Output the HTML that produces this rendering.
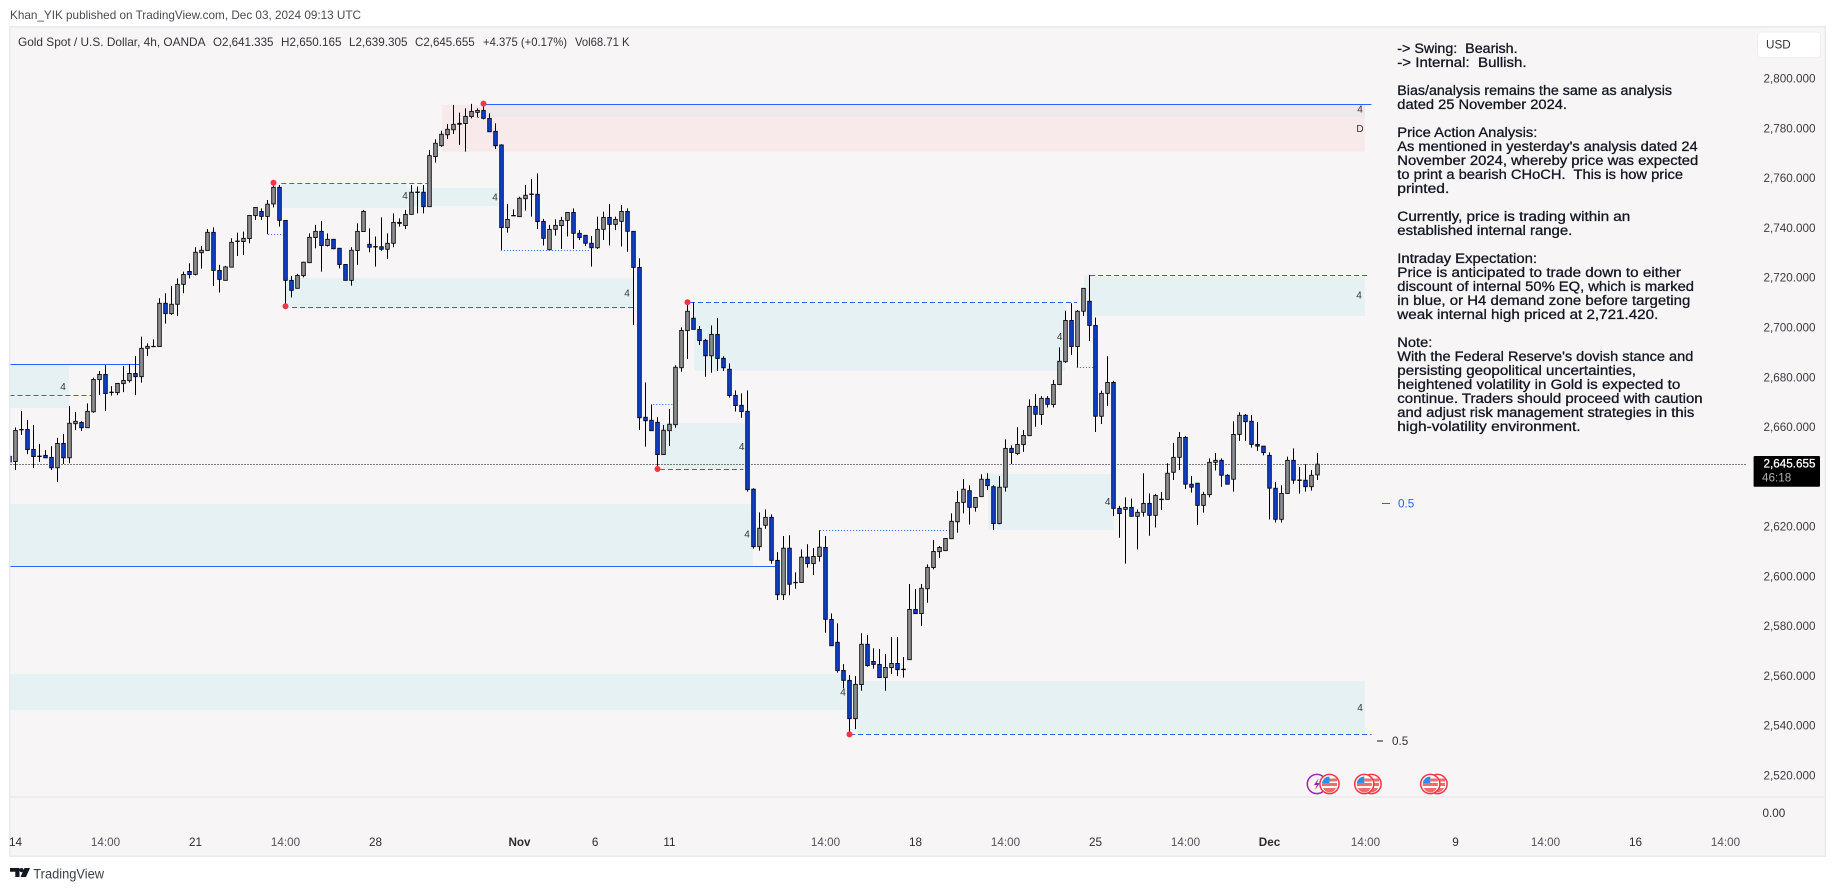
<!DOCTYPE html>
<html lang="en">
<head>
<meta charset="utf-8">
<title>Gold Spot / U.S. Dollar, 4h chart</title>
<style>
html,body{margin:0;padding:0;background:#fff;width:1835px;height:891px;overflow:hidden}
svg{display:block}
text{font-family:"Liberation Sans",sans-serif;white-space:pre}
.note{font-size:13.5px;fill:#131722;stroke:#131722;stroke-width:.3px}
.hdr{font-size:12px;fill:#333338}
.small4{font-size:10px;fill:#333;text-anchor:middle}
</style>
</head>
<body>
<svg id="chart" xmlns="http://www.w3.org/2000/svg" width="1835" height="891" viewBox="0 0 1835 891">
  <defs><clipPath id="pane-clip"><rect x="10.5" y="27.5" width="1814" height="769"></rect></clipPath></defs>
  <rect x="9.75" y="26.75" width="1815.5" height="829.5" fill="#f7f5f6" stroke="#e9e9ee" stroke-width="1.5"></rect>
  <line x1="10.5" x2="1825" y1="797" y2="797" stroke="#e4e4ea" stroke-width="1"></line>

  <g id="zones" clip-path="url(#pane-clip)"></g>
  <g id="levels" clip-path="url(#pane-clip)"></g>
  <line id="last-line" stroke="#000" stroke-width="1" stroke-dasharray="1 2"></line>
  <g id="candles" clip-path="url(#pane-clip)"></g>
  <g id="pivots"></g>
  <g id="events"></g>

  <g>
    <text class="small4" x="63" y="390">4</text>
    <text class="small4" x="405" y="199">4</text>
    <text class="small4" x="495" y="200.500">4</text>
    <text class="small4" x="627" y="296.500">4</text>
    <text class="small4" x="741.700" y="450">4</text>
    <text class="small4" x="747" y="537.500">4</text>
    <text class="small4" x="843" y="695.500">4</text>
    <text class="small4" x="1059.700" y="340">4</text>
    <text class="small4" x="1107.700" y="505">4</text>
    <text class="small4" x="1359" y="298.500">4</text>
    <text class="small4" x="1360" y="711">4</text>
    <text class="small4" x="1360" y="112.500">4</text>
    <text class="small4" x="1360" y="132">D</text>
  </g>

  <g>
    <line x1="1382" x2="1390" y1="503.500" y2="503.500" stroke="#2962ff" stroke-width="1"></line>
    <text x="1398" y="507.500" style="font-size:11.7px;fill:#2962ff">0.5</text>
  </g>
  <g>
    <line x1="1377" x2="1383" y1="741" y2="741" stroke="#131722" stroke-width="1"></line>
    <text x="1392" y="745" style="font-size:11.7px;fill:#333">0.5</text>
  </g>

  <g>
    <text class="note" x="1397.300" y="53" textLength="120.300" lengthAdjust="spacingAndGlyphs">-&gt; Swing:  Bearish.</text>
    <text class="note" x="1397.300" y="67" textLength="129.300" lengthAdjust="spacingAndGlyphs">-&gt; Internal:  Bullish.</text>
    <text class="note" x="1397.300" y="95" textLength="274.700" lengthAdjust="spacingAndGlyphs">Bias/analysis remains the same as analysis</text>
    <text class="note" x="1397.300" y="109" textLength="169.700" lengthAdjust="spacingAndGlyphs">dated 25 November 2024.</text>
    <text class="note" x="1397.300" y="137" textLength="140" lengthAdjust="spacingAndGlyphs">Price Action Analysis:</text>
    <text class="note" x="1397.300" y="151" textLength="300.300" lengthAdjust="spacingAndGlyphs">As mentioned in yesterday's analysis dated 24</text>
    <text class="note" x="1397.300" y="165" textLength="301" lengthAdjust="spacingAndGlyphs">November 2024, whereby price was expected</text>
    <text class="note" x="1397.300" y="179" textLength="285.700" lengthAdjust="spacingAndGlyphs">to print a bearish CHoCH.  This is how price</text>
    <text class="note" x="1397.300" y="193" textLength="52" lengthAdjust="spacingAndGlyphs">printed.</text>
    <text class="note" x="1397.300" y="221" textLength="233" lengthAdjust="spacingAndGlyphs">Currently, price is trading within an</text>
    <text class="note" x="1397.300" y="235" textLength="175" lengthAdjust="spacingAndGlyphs">established internal range.</text>
    <text class="note" x="1397.300" y="263" textLength="139.700" lengthAdjust="spacingAndGlyphs">Intraday Expectation:</text>
    <text class="note" x="1397.300" y="277" textLength="283.700" lengthAdjust="spacingAndGlyphs">Price is anticipated to trade down to either</text>
    <text class="note" x="1397.300" y="291" textLength="296.700" lengthAdjust="spacingAndGlyphs">discount of internal 50% EQ, which is marked</text>
    <text class="note" x="1397.300" y="305" textLength="293" lengthAdjust="spacingAndGlyphs">in blue, or H4 demand zone before targeting</text>
    <text class="note" x="1397.300" y="319" textLength="261" lengthAdjust="spacingAndGlyphs">weak internal high priced at 2,721.420.</text>
    <text class="note" x="1397.300" y="347" textLength="35" lengthAdjust="spacingAndGlyphs">Note:</text>
    <text class="note" x="1397.300" y="361" textLength="296" lengthAdjust="spacingAndGlyphs">With the Federal Reserve's dovish stance and</text>
    <text class="note" x="1397.300" y="375" textLength="238.700" lengthAdjust="spacingAndGlyphs">persisting geopolitical uncertainties,</text>
    <text class="note" x="1397.300" y="389" textLength="283" lengthAdjust="spacingAndGlyphs">heightened volatility in Gold is expected to</text>
    <text class="note" x="1397.300" y="403" textLength="305.300" lengthAdjust="spacingAndGlyphs">continue. Traders should proceed with caution</text>
    <text class="note" x="1397.300" y="417" textLength="297" lengthAdjust="spacingAndGlyphs">and adjust risk management strategies in this</text>
    <text class="note" x="1397.300" y="431" textLength="183.300" lengthAdjust="spacingAndGlyphs">high-volatility environment.</text>
  </g>

  <text class="hdr" x="10" y="19" textLength="351" lengthAdjust="spacingAndGlyphs" style="fill:#4a4a50">Khan_YIK published on TradingView.com, Dec 03, 2024 09:13 UTC</text>
  <g>
    <text class="hdr" x="18" y="46" textLength="187.500" lengthAdjust="spacingAndGlyphs">Gold Spot / U.S. Dollar, 4h, OANDA</text>
    <text class="hdr" x="213" y="46" textLength="60.500" lengthAdjust="spacingAndGlyphs">O2,641.335</text>
    <text class="hdr" x="281" y="46" textLength="60.500" lengthAdjust="spacingAndGlyphs">H2,650.165</text>
    <text class="hdr" x="349" y="46" textLength="58.500" lengthAdjust="spacingAndGlyphs">L2,639.305</text>
    <text class="hdr" x="415" y="46" textLength="59.700" lengthAdjust="spacingAndGlyphs">C2,645.655</text>
    <text class="hdr" x="483" y="46" textLength="84" lengthAdjust="spacingAndGlyphs">+4.375 (+0.17%)</text>
    <text class="hdr" x="575" y="46" textLength="54.500" lengthAdjust="spacingAndGlyphs">Vol68.71 K</text>
  </g>

  <g>
    <rect x="1757.500" y="32" width="63" height="25.500" rx="4" fill="#fff" stroke="#eeeef3" stroke-width="1"></rect>
    <text x="1766" y="48.500" style="font-size:11.7px;fill:#333">USD</text>
  </g>

  <g id="price-axis"></g>
  <text x="1762.500" y="817" style="font-size:11.7px;fill:#333">0.00</text>
  <g id="time-axis"></g>

  <g>
    <rect x="1753.600" y="456" width="66.400" height="30.700" rx="1" fill="#000"></rect>
    <text x="1815.500" y="467.700" text-anchor="end" style="font-size:11.7px;fill:#fff;stroke:#fff;stroke-width:.25px">2,645.655</text>
    <text x="1762" y="481.700" style="font-size:11.7px;fill:#b0b0b0">46:18</text>
  </g>

  <g>
    <path d="M10 868h9.500v9h-4.200v-5.200H10zM21.500 868a2.100 2.100 0 1 1 0 4.200a2.100 2.100 0 1 1 0-4.200zM24.500 868H30l-4 9h-5.500z" fill="#131722"></path>
    <text x="33.300" y="878.700" textLength="70.700" lengthAdjust="spacingAndGlyphs" style="font-size:13.500px;fill:#3a3f4a">TradingView</text>
  </g>
</svg>

<script>
// --- Candle values (4h bars, USD per ounce) ---
const opens = [2648.8,
2646.7,2659.5,2659.6,2651.6,2648.9,2649.2,2648.4,2644.2,2654.0,2648.2,
2661.9,2662.4,2660.3,2666.7,2679.6,2681.7,2674.4,2674.4,2678.0,2679.2,
2682.1,2680.8,2692.2,2692.9,2692.9,2710.3,2706.1,2709.9,2717.9,2723.1,
2721.9,2730.6,2731.5,2738.8,2723.5,2719.5,2724.8,2735.1,2735.1,2736.3,
2745.5,2747.2,2745.2,2750.2,2756.9,2743.6,2719.5,2716.3,2721.4,2726.6,
2736.7,2739.2,2733.5,2736.0,2732.4,2725.9,2719.5,2731.5,2739.1,2734.0,
2732.9,2733.0,2732.0,2734.4,2742.8,2741.5,2746.0,2754.8,2754.9,2749.1,
2769.2,2773.6,2778.0,2780.0,2782.6,2782.5,2785.3,2787.0,2787.8,2784.6,
2779.4,2773.9,2740.7,2745.4,2745.1,2752.3,2754.0,2754.1,2743.2,2731.8,
2740.0,2741.5,2743.6,2746.8,2738.4,2737.6,2734.4,2732.6,2740.0,2744.8,
2742.0,2743.2,2747.2,2739.2,2724.7,2664.5,2663.3,2662.5,2649.5,2659.1,
2661.5,2684.4,2699.3,2704.3,2699.8,2695.4,2689.2,2697.8,2688.2,2683.8,
2673.3,2669.3,2666.9,2635.6,2612.5,2621.1,2624.3,2607.0,2593.2,2611.9,
2598.0,2598.1,2608.3,2605.7,2608.6,2612.2,2583.3,2574.1,2562.8,2558.8,
2543.4,2557.1,2573.3,2566.4,2565.2,2559.9,2563.9,2565.6,2563.1,2567.1,
2587.3,2585.6,2595.6,2604.1,2610.5,2610.9,2615.7,2622.5,2630.3,2635.0,
2628.3,2632.6,2639.6,2636.6,2621.8,2636.4,2652.0,2649.9,2653.5,2657.1,
2668.9,2665.6,2672.1,2669.6,2677.6,2686.8,2703.4,2692.9,2707.1,2711.1,
2701.4,2664.9,2674.1,2678.5,2627.9,2627.5,2628.3,2624.7,2626.3,2629.9,
2625.1,2631.4,2631.5,2642.4,2648.4,2656.4,2637.6,2638.0,2629.1,2633.4,
2646.4,2647.2,2641.2,2639.6,2657.6,2665.3,2662.9,2653.6,2652.9,2649.2,
2636.0,2623.5,2633.9,2647.2,2639.1,2639.2,2636.6,2641.335];

const highs = [2649.0,
2660.4,2667.0,2663.4,2661.4,2653.8,2651.3,2652.9,2656.2,2657.8,2669.0,
2666.6,2662.9,2670.1,2680.4,2683.1,2685.5,2677.0,2678.1,2685.1,2685.9,
2689.1,2696.9,2694.2,2695.8,2712.3,2714.3,2717.3,2720.3,2723.0,2726.4,
2732.8,2733.3,2740.1,2740.8,2725.7,2725.3,2736.4,2738.7,2739.1,2745.6,
2748.8,2748.4,2751.8,2757.8,2757.8,2743.6,2721.3,2722.1,2727.0,2738.4,
2741.8,2743.4,2738.4,2736.0,2732.4,2725.9,2732.8,2742.4,2747.8,2740.4,
2737.1,2744.8,2738.4,2746.4,2744.4,2747.8,2757.8,2757.2,2757.8,2771.9,
2776.2,2779.6,2782.3,2790.0,2786.9,2788.6,2790.4,2788.6,2790.4,2786.6,
2782.6,2774.2,2750.2,2748.0,2753.1,2757.8,2760.2,2762.5,2744.2,2741.8,
2744.0,2745.0,2746.8,2748.4,2739.7,2737.6,2737.3,2745.1,2747.1,2750.2,
2745.1,2749.8,2748.4,2739.2,2728.4,2678.5,2669.7,2664.5,2661.4,2667.8,
2685.4,2700.6,2710.7,2710.7,2701.2,2696.0,2701.4,2704.4,2689.0,2686.2,
2675.3,2674.1,2675.3,2636.0,2626.3,2627.5,2625.5,2610.3,2616.8,2617.1,
2602.2,2611.4,2613.5,2611.9,2619.1,2616.8,2585.7,2581.7,2565.3,2560.9,
2560.5,2577.7,2577.0,2571.7,2571.4,2569.4,2576.2,2576.2,2568.2,2597.5,
2595.5,2597.5,2605.4,2615.2,2612.8,2615.8,2625.9,2634.9,2639.7,2637.2,
2632.3,2641.6,2642.0,2637.2,2640.9,2655.6,2653.2,2660.5,2659.4,2671.7,
2673.9,2673.0,2673.0,2679.5,2692.6,2707.3,2710.3,2707.6,2716.3,2721.7,
2704.6,2675.2,2689.0,2679.1,2628.9,2632.3,2631.8,2627.5,2642.0,2633.9,
2633.7,2634.5,2646.0,2654.2,2658.6,2657.0,2640.9,2638.0,2634.5,2648.0,
2650.1,2648.0,2641.6,2662.9,2666.5,2665.8,2665.4,2662.6,2652.9,2650.4,
2638.5,2637.2,2648.7,2652.0,2644.5,2645.6,2643.3,2650.165];

const lows = [2646.0,
2643.3,2657.4,2649.7,2644.1,2646.5,2648.2,2643.3,2638.5,2645.7,2646.0,
2659.4,2659.0,2660.3,2666.3,2673.4,2667.0,2673.2,2673.4,2674.6,2678.4,
2673.4,2678.4,2689.1,2692.9,2692.9,2702.1,2705.6,2705.2,2714.3,2720.3,
2721.5,2724.2,2731.5,2717.3,2714.6,2719.5,2724.8,2729.3,2729.7,2734.4,
2743.8,2743.8,2738.1,2748.8,2741.1,2709.6,2712.6,2716.3,2720.7,2726.6,
2732.4,2723.0,2733.1,2732.0,2724.3,2719.5,2717.4,2725.7,2739.1,2730.8,
2725.0,2731.4,2728.1,2732.8,2741.1,2740.1,2746.0,2746.4,2746.4,2749.1,
2766.8,2773.2,2776.3,2778.3,2773.9,2771.2,2784.6,2785.0,2784.2,2779.2,
2772.3,2731.7,2738.7,2745.4,2745.1,2747.5,2745.1,2740.1,2733.5,2731.7,
2737.5,2732.1,2737.1,2732.1,2735.7,2733.3,2725.0,2732.1,2735.7,2733.5,
2739.7,2733.1,2731.0,2701.6,2659.4,2652.7,2659.1,2643.7,2649.5,2653.0,
2660.3,2682.8,2687.9,2699.8,2693.5,2680.8,2682.4,2683.1,2683.1,2672.4,
2666.8,2664.3,2634.6,2611.7,2610.9,2619.7,2605.7,2591.1,2591.1,2593.0,
2595.6,2598.1,2604.1,2601.1,2606.5,2577.9,2572.7,2561.9,2555.6,2537.1,
2539.2,2554.6,2564.3,2563.5,2559.9,2554.6,2561.3,2560.5,2559.9,2567.1,
2585.6,2580.6,2590.0,2603.4,2607.9,2610.9,2615.7,2618.1,2625.9,2621.4,
2626.6,2632.6,2635.3,2619.2,2621.5,2634.6,2645.7,2649.3,2650.6,2657.1,
2660.7,2661.4,2668.4,2668.4,2677.6,2686.4,2689.5,2684.6,2705.2,2695.1,
2658.6,2661.8,2669.0,2624.8,2616.1,2605.7,2624.6,2611.4,2624.6,2616.9,
2620.2,2627.3,2631.5,2639.3,2643.3,2635.7,2634.2,2621.2,2626.2,2632.3,
2643.1,2636.6,2637.6,2634.6,2655.0,2655.0,2652.3,2651.0,2649.2,2623.4,
2622.2,2622.2,2633.9,2637.8,2633.8,2634.6,2635.0,2639.305];

const closes = [2646.5,
2659.2,2659.6,2651.5,2648.7,2648.7,2648.2,2644.2,2654.0,2648.2,2662.1,
2662.9,2660.3,2666.9,2679.7,2681.7,2674.0,2674.6,2678.1,2679.3,2682.1,
2680.8,2692.2,2693.0,2693.0,2710.3,2706.1,2709.9,2717.9,2721.9,2721.8,
2730.8,2731.6,2738.8,2723.5,2719.9,2724.9,2734.8,2735.3,2736.4,2745.6,
2748.8,2745.2,2750.1,2756.9,2743.6,2719.5,2715.5,2721.5,2726.8,2736.8,
2739.2,2733.5,2736.0,2732.2,2725.9,2719.5,2731.6,2739.2,2747.2,2732.8,
2733.1,2732.0,2734.4,2742.8,2742.4,2746.0,2754.9,2755.0,2749.1,2769.6,
2774.6,2778.2,2780.2,2782.2,2782.2,2785.4,2787.4,2787.8,2784.6,2779.2,
2773.6,2740.7,2744.0,2745.6,2752.5,2753.7,2754.2,2743.1,2736.4,2740.0,
2741.6,2743.6,2746.8,2738.4,2736.7,2734.4,2732.6,2740.0,2744.8,2742.0,
2744.0,2747.2,2739.2,2724.7,2664.3,2663.1,2659.1,2649.5,2659.3,2661.7,
2684.6,2699.4,2707.1,2699.8,2695.3,2689.2,2697.8,2688.1,2684.4,2673.2,
2669.2,2666.8,2635.4,2612.5,2619.9,2624.3,2607.0,2593.2,2611.9,2597.4,
2598.2,2608.3,2605.7,2608.6,2612.3,2583.3,2572.7,2562.7,2558.8,2543.4,
2557.2,2573.3,2564.7,2565.2,2559.9,2564.0,2565.6,2563.1,2563.3,2587.3,
2585.6,2595.8,2604.2,2610.6,2612.2,2615.8,2622.7,2630.3,2635.6,2628.3,
2632.3,2639.6,2637.0,2621.8,2636.4,2652.0,2650.3,2653.6,2657.2,2668.9,
2665.7,2672.1,2669.7,2677.7,2687.0,2703.4,2692.9,2707.1,2716.3,2701.4,
2664.9,2674.1,2678.5,2627.9,2625.8,2628.3,2624.7,2626.3,2629.9,2625.1,
2633.1,2631.6,2642.0,2648.4,2656.4,2637.6,2636.4,2629.1,2633.5,2646.4,
2647.2,2641.2,2637.6,2657.6,2665.3,2662.7,2653.6,2652.9,2650.3,2636.0,
2623.5,2633.9,2647.2,2639.2,2639.3,2636.6,2641.2,2645.655];

const lastPrice = 2645.655;

// --- Axis data ---
const priceTicks = [2800,2780,2760,2740,2720,2700,2680,2660,2620,2600,2580,2560,2540,2520];
const timeLabels = ["14","14:00","21","14:00","28","Nov","6","11","14:00","18","14:00","25","14:00","Dec","14:00","9","14:00","16","14:00"];
const timeBars = [1,16,31,46,61,85,97.6,110,136,151,166,181,196,210,226,241,256,271,286];

// --- Zones: bar index span and price span ---
const zoneStart = [-0.1,-0.1,-0.1,141.3,45.3,66.3,45.9,72.1,79.3,114.1,108.6,163.1,179.1];
const zoneEnd   = [9.93,123.9,139.6,225.9,66.3,81.4,104.1,225.9,225.9,176,122.6,184,225.9];
const zoneHigh  = [2685.8,2629.6,2561.3,2558.5,2758.2,2756.6,2720.4,2790,2790.2,2710.3,2662.2,2641.7,2721.4];
const zoneLow   = [2668.2,2604.7,2546.9,2537.2,2748.6,2749.4,2708.1,2771.2,2785.1,2683.2,2643.7,2619.2,2705.2];
const zoneKinds = ["d","d","d","d","d","d","d","s","o","d","d","d","d"];

// --- Structure levels ---
const solidPrices = [2685.8,2604.6,2790.2];
const solidFrom = [0,0,79.1];
const solidTo = [21.6,127.6,227];
const dashPrices = [2673.3,2758.5,2708.5,2710.7,2643.6,2721.5,2537];
const dashFrom = [0,45.3,47.1,113.4,108.4,180.1,140.1];
const dashTo = [13.6,69.6,104.1,177.9,122.3,226.6,227];
const dotPrices = [2738,2731.6,2785.1,2669.7,2619,2684.6];
const dotFrom = [43.1,81.9,78.1,107.3,135.1,177.9];
const dotTo = [45.6,96.9,79.3,110.6,156.8,180.6];

// --- Swing pivots ---
const pivotBars = [44,46,79,113,108,140];
const pivotPrices = [2758.7,2709.1,2790.5,2710.7,2643.7,2537.1];

// --- Economic events ---
const eventBars = [217.9,227,225.8,238,236.8,220];
const eventKinds = ["bolt","flag","flag","flag","flag","flag"];

const NS = "http://www.w3.org/2000/svg";
function xScale(i){ return 9.5 + 6*i; }
function yScale(p){ return 80 + (2800-p)*2.489; }
function snap(v){ return Math.floor(v) + 0.5; }
function make(tag, parent, props){
  const e = document.createElementNS(NS, tag);
  for (const k in props) e.setAttribute(k, props[k]);
  parent.appendChild(e);
  return e;
}

const UP = "#8b8e93", DOWN = "#0f3fc8", ZONEFILL = {d:"#e6f1f3", s:"#f8eaeb", o:"#ede8eb"};

const zonesG = document.getElementById("zones");
zoneStart.forEach(function(s,i){
  const r = make("rect", zonesG, {x:xScale(s), y:yScale(zoneHigh[i]), width:xScale(zoneEnd[i])-xScale(s), height:yScale(zoneLow[i])-yScale(zoneHigh[i]), fill:ZONEFILL[zoneKinds[i]]});
  
  
});

const levelsG = document.getElementById("levels");
function drawLevels(prices, from, to, dash, name){
  prices.forEach(function(p,i){
    const y = snap(yScale(p));
    const l = make("line", levelsG, {x1:xScale(from[i]), x2:xScale(to[i]), y1:y, y2:y, stroke:"#2962ff", "stroke-width":1, "stroke-dasharray":dash});
    
    
  });
}
drawLevels(solidPrices, solidFrom, solidTo, "none", "structure-line");
drawLevels(dashPrices, dashFrom, dashTo, "5 3", "dashed-level");
drawLevels(dotPrices, dotFrom, dotTo, "1 2", "dotted-level");

const lastLine = document.getElementById("last-line");
lastLine.setAttribute("x1", 10.5);
lastLine.setAttribute("x2", 1747);
lastLine.setAttribute("y1", snap(yScale(lastPrice)));
lastLine.setAttribute("y2", snap(yScale(lastPrice)));

const candlesG = document.getElementById("candles");
opens.forEach(function(o,i){
  const c = closes[i], x = xScale(i), up = c >= o;
  const g = make("g", candlesG, {});
  
  
  const wick = make("line", g, {x1:x, x2:x, y1:yScale(highs[i]), y2:yScale(lows[i]), stroke:"#000", "stroke-width":1});
  
  
  const top = yScale(Math.max(o,c)), bot = yScale(Math.min(o,c));
  const body = make("rect", g, {x:x-1.8, y:top, width:3.6, height:Math.max(bot-top,0.4), fill:up?UP:DOWN, stroke:"#000", "stroke-width":0.85});
  
  
});

const pivotsG = document.getElementById("pivots");
pivotBars.forEach(function(b,i){
  const d = make("circle", pivotsG, {cx:xScale(b), cy:yScale(pivotPrices[i]), r:3, fill:"#f23645"});
  
  
});

const eventsG = document.getElementById("events");
eventBars.forEach(function(b,i){
  const cx = xScale(b), cy = 784;
  const g = make("g", eventsG, {});
  
  
  if (eventKinds[i] === "bolt") {
    make("circle", g, {cx:cx, cy:cy, r:9.6, fill:"#f7f5f6", stroke:"#9c27b0", "stroke-width":1.5});
    make("path", g, {d:"M"+(cx+2)+" "+(cy-6)+"l-5 7h3l-2 5 5-7h-3z", fill:"#9c27b0"});
  } else {
    make("circle", g, {cx:cx, cy:cy, r:9.6, fill:"#fff", stroke:"#f23645", "stroke-width":1.5});
    make("rect", g, {x:cx-7.5, y:cy-1, width:15, height:3, fill:"#f26b6b"});
    make("rect", g, {x:cx, y:cy-5.5, width:7.5, height:3, fill:"#f26b6b"});
    make("path", g, {d:"M"+(cx-6.5)+" "+(cy+4)+"h13a7 7 0 0 1-13 0z", fill:"#f26b6b"});
    make("path", g, {d:"M"+(cx-7.5)+" "+(cy-1)+"a7.600 7.600 0 0 1 7.500-6.500v6.500z", fill:"#2f8fe6"});
  }
});

const priceAxis = document.getElementById("price-axis");
priceTicks.forEach(function(p){
  const t = make("text", priceAxis, {x:1815.5, y:yScale(p)+2.6, "text-anchor":"end", style:"font-size:11.7px;fill:#3c3c40"});
  
  
  t.textContent = p.toLocaleString("en-US") + ".000";
});

const timeAxis = document.getElementById("time-axis");
timeLabels.forEach(function(lbl,i){
  const month = lbl === "Nov" || lbl === "Dec";
  const hour = lbl === "14:00";
  const t = make("text", timeAxis, {x:xScale(timeBars[i]), y:846, "text-anchor":"middle", style:"font-size:11.7px;fill:"+(hour?"#55555a":"#2c2c30")+(month?";font-weight:bold":"")});
  
  
  t.textContent = lbl;
});
</script>
</body>
</html>
